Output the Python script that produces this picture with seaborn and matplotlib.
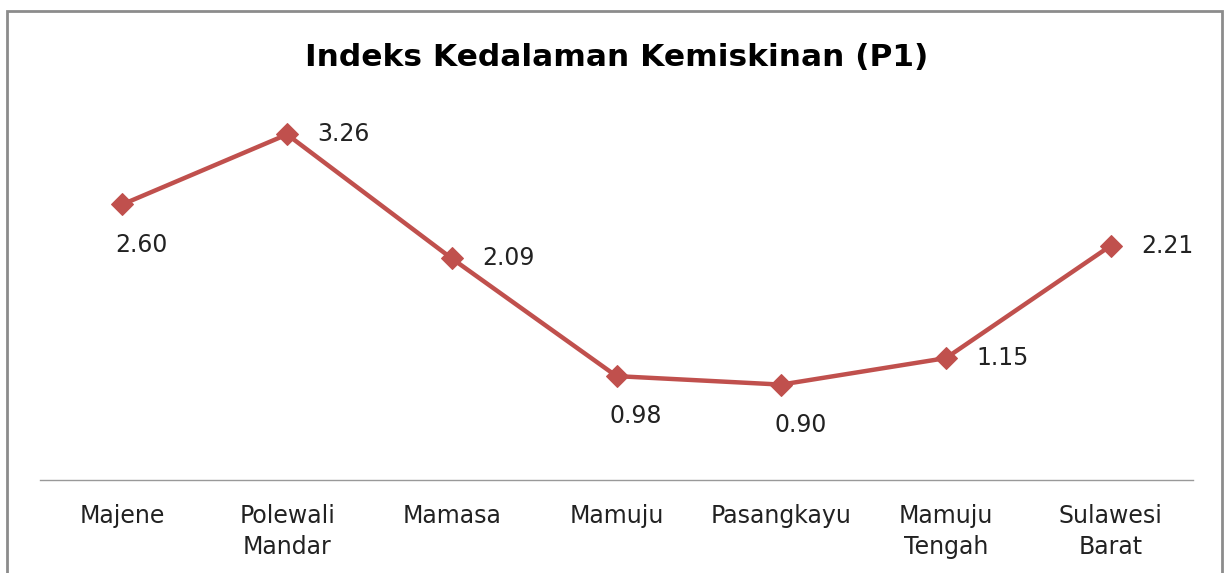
import seaborn as sns
import matplotlib.pyplot as plt
import pandas as pd
from matplotlib.patches import Rectangle

sns.set_style("white")
plt.rcParams['font.family'] = ['DejaVu Sans']

# data
regions = ["Majene", "Polewali\nMandar", "Mamasa", "Mamuju", "Pasangkayu",
           "Mamuju\nTengah", "Sulawesi\nBarat"]
p1 = [2.60, 3.26, 2.09, 0.98, 0.90, 1.15, 2.21]
label_pos = ["below", "right", "right", "below", "below", "right", "right"]

df = pd.DataFrame({"x": range(len(regions)), "p1": p1})
red = "#C0504D"

fig = plt.figure(figsize=(12.27, 5.73), dpi=100)
ax = fig.add_axes([40/1227, 93/573, 1153/1227, 371/573])

sns.lineplot(data=df, x="x", y="p1", ax=ax, color=red, linewidth=3.2,
             marker="D", markersize=11.5, markeredgecolor=red)

for i, (v, pos) in enumerate(zip(p1, label_pos)):
    if pos == "right":
        ax.annotate(f"{v:.2f}", (i, v), xytext=(22, 0), textcoords="offset points",
                    ha="left", va="center", fontsize=17, color="#222222")
    else:
        ax.annotate(f"{v:.2f}", (i, v), xytext=(14, -29), textcoords="offset points",
                    ha="center", va="center", fontsize=17, color="#222222")

ax.set_xlim(-0.5, len(regions) - 0.5)
ax.set_ylim(0, 3.5)
ax.set_xticks(range(len(regions)))
ax.set_xticklabels(regions, fontsize=17, color="#222222", linespacing=1.4)
ax.tick_params(axis="x", length=0, pad=17)
ax.set_yticks([])
ax.set_xlabel("")
ax.set_ylabel("")
for s in ["top", "right", "left"]:
    ax.spines[s].set_visible(False)
ax.spines["bottom"].set_color("#999999")
ax.spines["bottom"].set_linewidth(1)

fig.text(617/1227, 1 - 57/573, "Indeks Kedalaman Kemiskinan (P1)",
         ha="center", va="center", fontsize=22.5, fontweight="bold", color="black")

# outer chart border
fig.add_artist(Rectangle((7/1227, -0.1), (1222 - 7)/1227, 1.1 - 11/573,
                         transform=fig.transFigure, fill=False,
                         edgecolor="#8c8c8c", linewidth=2))

fig.savefig("out.png", dpi=100)
